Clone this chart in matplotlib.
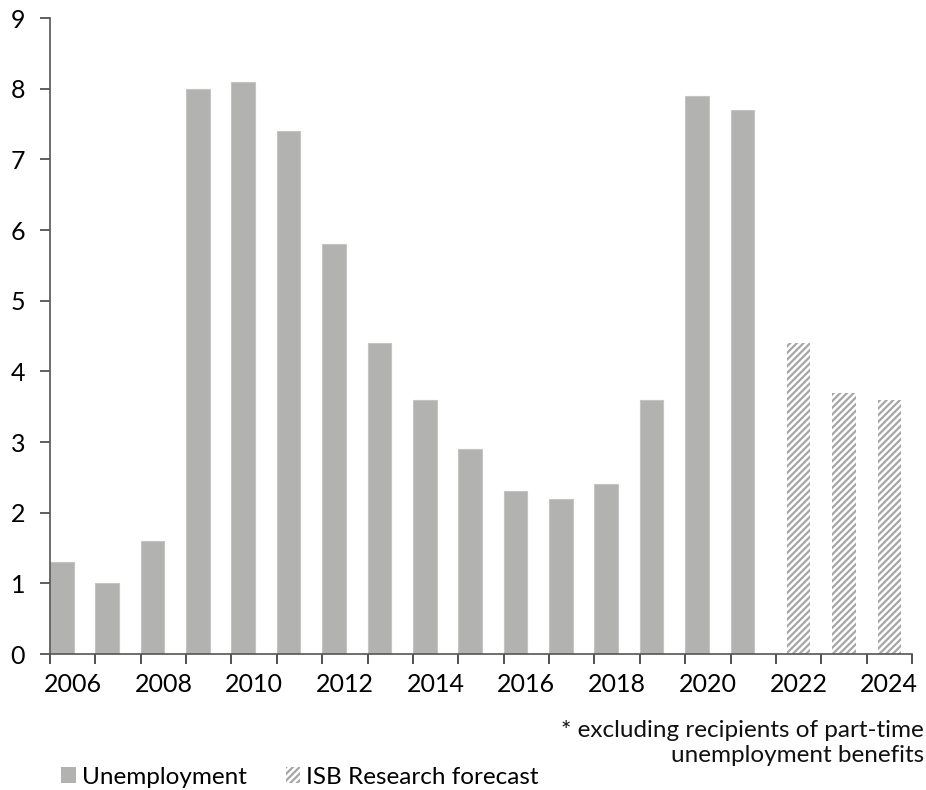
import matplotlib
matplotlib.use("Agg")
import matplotlib.pyplot as plt
from matplotlib.patches import Patch
import numpy as np

years = list(range(2006, 2025))
unemp_years = list(range(2006, 2022))
unemployment = [1.3, 1.0, 1.6, 8.0, 8.1, 7.4, 5.8, 4.4, 3.6, 2.9, 2.3, 2.2, 2.4, 3.6, 7.9, 7.7]
forecast_years = [2022, 2023, 2024]
forecast = [4.4, 3.7, 3.6]
yticks = list(range(0, 10))
xlabels = [str(y) for y in range(2006, 2025, 2)]

plt.rcParams['font.family'] = ['Lato', 'DejaVu Sans']
plt.rcParams['hatch.linewidth'] = 1.6

fig = plt.figure(figsize=(9.26, 7.9), dpi=100)
ax = fig.add_axes([50/926, 1-654/790, 862/926, 636/790])

bar_color = '#b2b3b0'
hatch_color = '#a6a6a6'
w = 0.52
ux = np.array([y - 2006 for y in unemp_years])
ax.bar(ux - 0.5, unemployment, width=w, align='edge', color=bar_color, edgecolor='#c4c5c2', linewidth=0.8)
fx = np.array([y - 2006 for y in forecast_years])
ax.bar(fx, forecast, width=w, align='center', color='white', edgecolor=hatch_color, linewidth=0, hatch='/////')

ax.set_xlim(-0.5, len(years) - 0.5)
ax.set_ylim(0, 9)
ax.set_yticks(yticks)
ax.set_yticklabels([str(t) for t in yticks], fontsize=18)

ax.set_xticks(np.arange(-0.5, len(years), 1.0))
ax.set_xticklabels([])
ax.set_xticks(np.arange(0, len(years), 2), minor=True)
ax.set_xticklabels(xlabels, minor=True, fontsize=18)
ax.tick_params(axis='x', which='minor', length=0, pad=14)
ax.tick_params(axis='x', which='major', length=7, width=1.2, color='#333333', direction='out')
ax.tick_params(axis='y', length=7, width=1.2, color='#444444', pad=11)

for s in ['top', 'right']:
    ax.spines[s].set_visible(False)
ax.spines['left'].set_color('#555555')
ax.spines['left'].set_linewidth(1.2)
ax.spines['bottom'].set_color('#555555')
ax.spines['bottom'].set_linewidth(1.2)

fig.text(924/926, 1-743/790, '* excluding recipients of part-time\nunemployment benefits', ha='right', va='center',
         fontsize=17.5, linespacing=1.2, color='#111111')

handles = [Patch(facecolor=bar_color, edgecolor='none', label='Unemployment'),
           Patch(facecolor='white', edgecolor=hatch_color, linewidth=0, hatch='/////', label='ISB Research forecast')]
fig.legend(handles=handles, loc='center left', bbox_to_anchor=(49/926, 1-777/790), ncol=2, frameon=False,
           fontsize=17.5, handlelength=0.6, handleheight=0.6, handletextpad=0.25, columnspacing=1.6, borderpad=0)

fig.savefig('out.png', dpi=100)
